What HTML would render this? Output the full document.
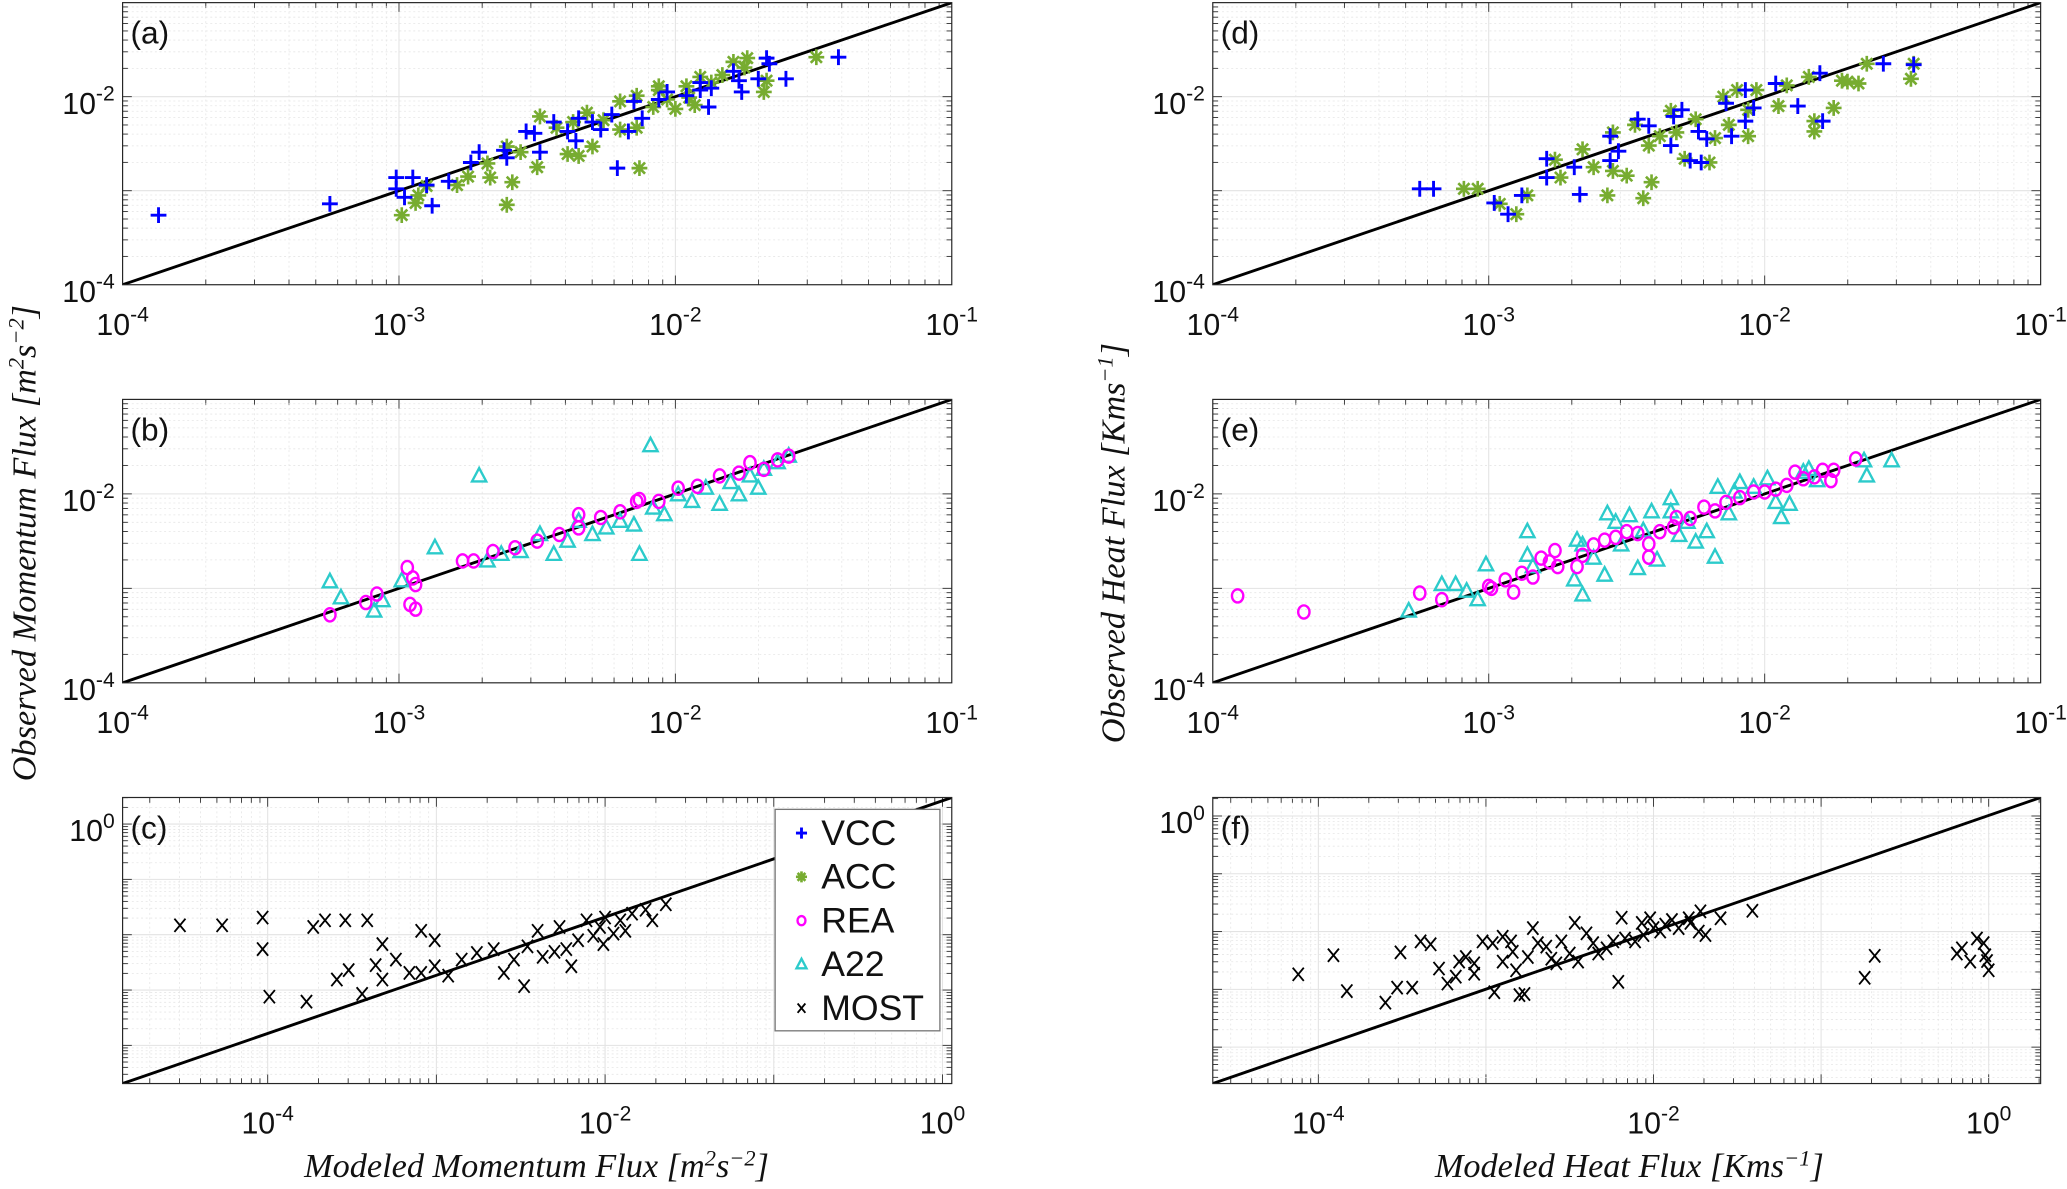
<!DOCTYPE html>
<html><head><meta charset="utf-8"><style>
html,body{margin:0;padding:0;background:#fff;}
svg{display:block;}
text{font-family:"Liberation Sans",Arial,sans-serif;fill:#111;}
.ser{font-family:"Liberation Serif","DejaVu Serif",serif;font-style:italic;}
</style></head><body>
<svg id="fig" xmlns="http://www.w3.org/2000/svg" width="2067" height="1189" viewBox="0 0 1568 902" preserveAspectRatio="none">
<text class="ser" transform="translate(27,412) rotate(-90)" text-anchor="middle" font-size="26">Observed  Momentum  Flux  [m<tspan dy="-9" font-size="17">2</tspan><tspan dy="9">s</tspan><tspan dy="-9" font-size="17">−2</tspan><tspan dy="9">]</tspan></text>
<text class="ser" transform="translate(853,412) rotate(-90)" text-anchor="middle" font-size="26">Observed  Heat  Flux  [Kms<tspan dy="-9" font-size="17">−1</tspan><tspan dy="9">]</tspan></text>
<text class="ser" x="407" y="893" text-anchor="middle" font-size="26">Modeled Momentum Flux [m<tspan dy="-9" font-size="17">2</tspan><tspan dy="9">s</tspan><tspan dy="-9" font-size="17">−2</tspan><tspan dy="9">]</tspan></text>
<text class="ser" x="1236" y="893" text-anchor="middle" font-size="26">Modeled Heat Flux [Kms<tspan dy="-9" font-size="17">−1</tspan><tspan dy="9">]</tspan></text>
</svg>
<script>
// All values are log10 of flux (decades)
// Panel (a)
const aVccX=[-3.87,-3.25,-3.01,-2.95,-3.01,-2.98,-2.90,-2.88,-2.82,-2.74,-2.71,-2.62,-2.61,-2.54,-2.51,-2.49,-2.44,-2.39,-2.36,-2.30,-2.23,-2.21,-2.17,-2.12,-2.15,-2.06,-2.03,-1.96,-1.91,-1.88,-1.87,-1.79,-1.76,-1.70,-1.67,-1.66,-1.60,-1.41,-1.91,-2.27,-2.35,-1.77];
const aVccY=[-3.26,-3.14,-2.86,-2.86,-2.98,-3.07,-2.94,-3.16,-2.90,-2.70,-2.59,-2.57,-2.65,-2.37,-2.39,-2.59,-2.27,-2.37,-2.47,-2.27,-2.19,-2.76,-2.37,-2.23,-2.05,-2.03,-1.95,-1.99,-1.93,-2.11,-1.91,-1.73,-1.95,-1.81,-1.59,-1.65,-1.81,-1.58,-1.85,-2.35,-2.23,-1.83];
const aAccX=[-2.99,-2.94,-2.93,-2.90,-2.79,-2.75,-2.67,-2.59,-2.61,-2.68,-2.61,-2.56,-2.49,-2.50,-2.43,-2.39,-2.35,-2.32,-2.30,-2.26,-2.20,-2.14,-2.13,-2.20,-2.14,-2.06,-2.03,-2.00,-1.96,-1.93,-1.91,-1.87,-1.83,-1.79,-1.75,-1.74,-1.67,-1.68,-1.49,-2.08,-2.06,-2.37,-1.95];
const aAccY=[-3.26,-3.13,-3.05,-2.95,-2.94,-2.85,-2.86,-2.91,-3.15,-2.71,-2.53,-2.59,-2.21,-2.75,-2.33,-2.61,-2.63,-2.17,-2.53,-2.25,-2.35,-2.33,-2.76,-2.05,-1.99,-1.93,-2.03,-2.13,-1.89,-2.09,-1.79,-1.85,-1.77,-1.63,-1.69,-1.59,-1.83,-1.95,-1.58,-2.11,-1.89,-2.27,-2.01];
// Panel (b)
const bA22X=[-3.25,-3.21,-3.09,-3.06,-2.99,-2.87,-2.71,-2.68,-2.63,-2.56,-2.49,-2.44,-2.39,-2.35,-2.30,-2.25,-2.20,-2.15,-2.13,-2.08,-2.04,-1.99,-1.94,-1.89,-1.84,-1.80,-1.77,-1.73,-1.70,-1.68,-1.63,-1.59,-2.09];
const bA22Y=[-2.93,-3.10,-3.24,-3.13,-2.92,-2.57,-1.81,-2.71,-2.64,-2.61,-2.43,-2.64,-2.50,-2.29,-2.43,-2.36,-2.29,-2.33,-2.64,-2.15,-2.22,-2.01,-2.08,-1.94,-2.11,-1.88,-2.01,-1.81,-1.94,-1.74,-1.67,-1.60,-1.49];
const bReaX=[-3.25,-3.12,-3.08,-2.97,-2.95,-2.94,-2.96,-2.94,-2.77,-2.73,-2.66,-2.58,-2.50,-2.42,-2.35,-2.27,-2.20,-2.14,-2.06,-1.99,-1.92,-1.84,-1.77,-1.73,-1.68,-1.63,-1.59,-2.13,-2.35];
const bReaY=[-3.28,-3.15,-3.06,-2.78,-2.89,-2.96,-3.17,-3.22,-2.71,-2.71,-2.61,-2.57,-2.50,-2.43,-2.36,-2.25,-2.19,-2.08,-2.08,-1.94,-1.92,-1.81,-1.78,-1.67,-1.74,-1.64,-1.60,-2.06,-2.22];
// Panel (c)
const cMostX=[-4.52,-4.27,-4.03,-4.03,-3.99,-3.73,-3.66,-3.54,-3.41,-3.77,-3.59,-3.52,-3.44,-3.32,-3.36,-3.32,-3.24,-3.16,-3.09,-3.09,-3.01,-3.01,-2.93,-2.85,-2.76,-2.66,-2.60,-2.54,-2.46,-2.40,-2.37,-2.30,-2.27,-2.23,-2.16,-2.11,-2.07,-2.03,-2.00,-1.95,-1.91,-1.88,-1.84,-1.76,-1.72,-1.64,-2.01,-2.20,-2.48];
const cMostY=[-1.83,-1.83,-1.69,-2.26,-3.12,-1.86,-1.74,-1.74,-1.74,-3.21,-2.81,-2.64,-3.07,-2.17,-2.55,-2.81,-2.45,-2.69,-1.93,-2.69,-2.10,-2.57,-2.74,-2.45,-2.33,-2.26,-2.69,-2.45,-2.21,-1.93,-2.40,-2.31,-1.86,-2.26,-2.10,-1.74,-2.02,-1.86,-1.69,-1.98,-1.74,-1.93,-1.62,-1.55,-1.74,-1.45,-2.17,-2.57,-2.93];
// Panel (d)
const dVccX=[-3.25,-3.20,-2.98,-2.93,-2.88,-2.79,-2.79,-2.69,-2.67,-2.56,-2.53,-2.56,-2.46,-2.42,-2.34,-2.33,-2.27,-2.23,-2.24,-2.21,-2.12,-2.14,-2.07,-2.07,-2.04,-1.96,-1.88,-1.79,-1.80,-1.57,-1.46,-2.30];
const dVccY=[-2.98,-2.98,-3.13,-3.25,-3.05,-2.66,-2.86,-2.75,-3.04,-2.68,-2.58,-2.42,-2.24,-2.31,-2.52,-2.21,-2.68,-2.70,-2.37,-2.45,-2.42,-2.07,-1.93,-2.26,-2.12,-1.86,-2.10,-2.26,-1.75,-1.65,-1.66,-2.14];
const dAccX=[-3.09,-3.04,-2.96,-2.90,-2.86,-2.76,-2.74,-2.66,-2.62,-2.57,-2.55,-2.50,-2.44,-2.41,-2.55,-2.47,-2.42,-2.38,-2.34,-2.32,-2.29,-2.25,-2.20,-2.18,-2.15,-2.13,-2.10,-2.06,-2.06,-2.03,-1.95,-1.92,-1.84,-1.82,-1.82,-1.75,-1.72,-1.70,-1.66,-1.63,-1.46,-1.47];
const dAccY=[-2.98,-2.98,-3.14,-3.25,-3.05,-2.67,-2.86,-2.56,-2.75,-3.05,-2.79,-2.84,-3.08,-2.91,-2.38,-2.30,-2.52,-2.42,-2.15,-2.38,-2.66,-2.24,-2.70,-2.44,-2.00,-2.30,-1.93,-2.42,-2.14,-1.93,-2.10,-1.88,-1.79,-2.26,-2.37,-2.12,-1.83,-1.84,-1.86,-1.65,-1.65,-1.81];
// Panel (e)
const eReaX=[-3.91,-3.67,-3.25,-3.17,-3.00,-2.99,-2.94,-2.91,-2.88,-2.84,-2.81,-2.78,-2.76,-2.75,-2.68,-2.66,-2.62,-2.58,-2.54,-2.50,-2.46,-2.42,-2.42,-2.38,-2.33,-2.32,-2.27,-2.22,-2.18,-2.14,-2.09,-2.04,-2.00,-1.96,-1.92,-1.89,-1.86,-1.82,-1.79,-1.76,-1.75,-1.67];
const eReaY=[-3.08,-3.25,-3.05,-3.12,-2.98,-3.00,-2.91,-3.04,-2.84,-2.88,-2.68,-2.72,-2.60,-2.77,-2.77,-2.65,-2.54,-2.49,-2.46,-2.40,-2.42,-2.67,-2.53,-2.40,-2.35,-2.25,-2.26,-2.14,-2.18,-2.09,-2.04,-1.98,-1.98,-1.95,-1.91,-1.77,-1.84,-1.82,-1.75,-1.86,-1.75,-1.63];
const eA22X=[-3.29,-3.17,-3.12,-3.08,-3.04,-3.01,-2.86,-2.86,-2.84,-2.69,-2.66,-2.68,-2.66,-2.62,-2.58,-2.57,-2.54,-2.52,-2.49,-2.46,-2.44,-2.41,-2.39,-2.34,-2.34,-2.31,-2.28,-2.25,-2.21,-2.18,-2.17,-2.13,-2.11,-2.09,-2.04,-1.99,-1.96,-1.94,-1.91,-1.86,-1.84,-1.64,-1.63,-1.54,-1.81];
const eA22Y=[-3.24,-2.96,-2.96,-3.03,-3.12,-2.75,-2.40,-2.65,-2.77,-2.91,-3.07,-2.49,-2.54,-2.68,-2.86,-2.21,-2.30,-2.54,-2.23,-2.79,-2.39,-2.19,-2.70,-2.05,-2.19,-2.44,-2.30,-2.51,-2.40,-2.67,-1.93,-2.21,-1.98,-1.88,-1.93,-1.84,-2.09,-2.25,-2.11,-1.77,-1.74,-1.65,-1.81,-1.65,-1.86];
// Panel (f)
const fMostX=[-4.12,-3.91,-3.83,-3.60,-3.53,-3.51,-3.44,-3.39,-3.33,-3.28,-3.23,-3.18,-3.16,-3.12,-3.07,-3.07,-3.02,-2.96,-2.95,-2.90,-2.90,-2.85,-2.84,-2.80,-2.77,-2.82,-2.75,-2.72,-2.69,-2.64,-2.61,-2.58,-2.55,-2.50,-2.47,-2.45,-2.40,-2.36,-2.33,-2.28,-2.24,-2.21,-2.19,-2.17,-2.11,-2.07,-2.06,-2.02,-2.00,-1.96,-1.93,-1.89,-1.85,-1.79,-1.78,-1.73,-1.72,-1.69,-1.60,-1.41,-0.74,-0.68,-0.19,-0.16,-0.11,-0.07,-0.03,-0.02,-0.01,0.00];
const fMostY=[-2.74,-2.41,-3.03,-3.23,-2.97,-2.36,-2.97,-2.17,-2.22,-2.64,-2.90,-2.78,-2.52,-2.44,-2.73,-2.55,-2.17,-2.20,-3.05,-2.09,-2.52,-2.17,-2.35,-3.10,-3.08,-2.67,-2.44,-1.94,-2.20,-2.26,-2.47,-2.55,-2.17,-2.38,-1.85,-2.52,-2.03,-2.20,-2.38,-2.29,-2.17,-2.87,-1.76,-2.12,-2.17,-1.85,-2.06,-1.77,-1.94,-2.00,-1.88,-1.80,-1.94,-1.77,-1.85,-2.00,-1.65,-2.06,-1.77,-1.64,-2.80,-2.42,-2.38,-2.29,-2.52,-2.12,-2.20,-2.41,-2.51,-2.67];

const svg=document.getElementById('fig');
const NS='http://www.w3.org/2000/svg';
function mk(tag,attrs,parent){const e=document.createElementNS(NS,tag);for(const k in attrs)e.setAttribute(k,attrs[k]);(parent||svg).appendChild(e);return e;}

function tickLabel(g,x,y,exp,anchor){
  const t=mk('text',{x:x,y:y,'text-anchor':anchor,'font-size':23},g);
  
  
  t.appendChild(document.createTextNode('10'));
  const s=mk('tspan',{dy:-10,'font-size':16},t);s.textContent=String(exp);
  return t;
}

function makePanel(p){
  const g=mk('g',{});
  
  
  const X=v=>p.x0+(v-p.xmin)/(p.xmax-p.xmin)*(p.x1-p.x0);
  const Y=v=>p.y1-(v-p.ymin)/(p.ymax-p.ymin)*(p.y1-p.y0);
  mk('rect',{x:p.x0,y:p.y0,width:p.x1-p.x0,height:p.y1-p.y0,fill:'#fff'},g);
  for(let d=Math.floor(p.xmin);d<=Math.ceil(p.xmax);d++){
    for(let m=1;m<10;m++){const v=d+Math.log10(m);if(v<=p.xmin||v>=p.xmax)continue;const x=X(v);
      mk('line',{x1:x,x2:x,y1:p.y0,y2:p.y1,stroke:m===1?'#e3e3e3':'#e6e6e6','stroke-width':m===1?0.8:0.6,'stroke-dasharray':m===1?'':'1.5,2'},g);
      const tl=m===1?7:4;
      mk('line',{x1:x,x2:x,y1:p.y1,y2:p.y1-tl,stroke:'#333','stroke-width':0.7},g);
      mk('line',{x1:x,x2:x,y1:p.y0,y2:p.y0+tl,stroke:'#333','stroke-width':0.7},g);}
  }
  for(let d=Math.floor(p.ymin);d<=Math.ceil(p.ymax);d++){
    for(let m=1;m<10;m++){const v=d+Math.log10(m);if(v<=p.ymin||v>=p.ymax)continue;const y=Y(v);
      mk('line',{x1:p.x0,x2:p.x1,y1:y,y2:y,stroke:m===1?'#e3e3e3':'#e6e6e6','stroke-width':m===1?0.8:0.6,'stroke-dasharray':m===1?'':'1.5,2'},g);
      const tl=m===1?7:4;
      mk('line',{x1:p.x0,x2:p.x0+tl,y1:y,y2:y,stroke:'#333','stroke-width':0.7},g);
      mk('line',{x1:p.x1,x2:p.x1-tl,y1:y,y2:y,stroke:'#333','stroke-width':0.7},g);}
  }
  p.xt.forEach(v=>tickLabel(g,X(v),p.y1+38,v,'middle'));
  p.yt.forEach(v=>tickLabel(g,p.x0-6,Y(v)+13,v,'end'));
  const clip=mk('clipPath',{id:'clip'+p.id},g);
  mk('rect',{x:p.x0,y:p.y0,width:p.x1-p.x0,height:p.y1-p.y0},clip);
  const line=mk('line',{x1:X(p.xmin),y1:Y(p.ymin),x2:X(p.xmax),y2:Y(p.ymax),stroke:'#000','stroke-width':2.2,'clip-path':'url(#clip'+p.id+')'},g);
  
  
  p.series.forEach(s=>{
    const sg=mk('g',{},g);
    
    
    s.xs.forEach((xv,i)=>{const m=marker(sg,s.type,X(xv),Y(s.ys[i]),1);
      
      });
  });
  mk('rect',{x:p.x0,y:p.y0,width:p.x1-p.x0,height:p.y1-p.y0,fill:'none',stroke:'#262626','stroke-width':0.9},g);
  const lab=mk('text',{x:p.x0+6,y:p.y0+31,'font-size':24},g);
  lab.textContent='('+p.id+')';
  
  
  return {g,X,Y};
}

function marker(parent,type,x,y,sc){
  const g=mk('g',{},parent);
  if(type==='plus'){const r=6*sc;mk('path',{d:`M${x-r},${y}H${x+r}M${x},${y-r}V${y+r}`,stroke:'#0000ff','stroke-width':2.2},g);}
  else if(type==='star'){const r=6*sc;let d='';for(let k=0;k<4;k++){const a=k*Math.PI/4;d+=`M${x-r*Math.cos(a)},${y-r*Math.sin(a)}L${x+r*Math.cos(a)},${y+r*Math.sin(a)}`;}
    mk('path',{d,stroke:'#77ac30','stroke-width':2},g);}
  else if(type==='circle'){mk('ellipse',{cx:x,cy:y,rx:4.3*sc,ry:5*sc,fill:'none',stroke:'#ff00ff','stroke-width':1.8},g);}
  else if(type==='tri'){const r=6*sc;mk('path',{d:`M${x},${y-r}L${x+r*0.9},${y+r*0.7}L${x-r*0.9},${y+r*0.7}Z`,fill:'none',stroke:'#2ccbcb','stroke-width':1.8},g);}
  else if(type==='x'){const r=4.2*sc;mk('path',{d:`M${x-r},${y-r*1.2}L${x+r},${y+r*1.2}M${x+r},${y-r*1.2}L${x-r},${y+r*1.2}`,stroke:'#000','stroke-width':1.4},g);}
  return g;
}

const L=[93,722],R=[920,1548];
makePanel({id:'a',x0:L[0],x1:L[1],y0:2,y1:216,xmin:-4,xmax:-1,ymin:-4,ymax:-1,xt:[-4,-3,-2,-1],yt:[-4,-2],
  series:[{name:'acc',type:'star',xs:aAccX,ys:aAccY},{name:'vcc',type:'plus',xs:aVccX,ys:aVccY}]});
makePanel({id:'b',x0:L[0],x1:L[1],y0:303,y1:518,xmin:-4,xmax:-1,ymin:-4,ymax:-1,xt:[-4,-3,-2,-1],yt:[-4,-2],
  series:[{name:'a22',type:'tri',xs:bA22X,ys:bA22Y},{name:'rea',type:'circle',xs:bReaX,ys:bReaY}]});
makePanel({id:'c',x0:L[0],x1:L[1],y0:605,y1:822,xmin:-4.86,xmax:0.055,ymin:-4.69,ymax:0.48,xt:[-4,-2,0],yt:[0],
  series:[{name:'most',type:'x',xs:cMostX,ys:cMostY}]});
makePanel({id:'d',x0:R[0],x1:R[1],y0:2,y1:216,xmin:-4,xmax:-1,ymin:-4,ymax:-1,xt:[-4,-3,-2,-1],yt:[-4,-2],
  series:[{name:'acc',type:'star',xs:dAccX,ys:dAccY},{name:'vcc',type:'plus',xs:dVccX,ys:dVccY}]});
makePanel({id:'e',x0:R[0],x1:R[1],y0:303,y1:518,xmin:-4,xmax:-1,ymin:-4,ymax:-1,xt:[-4,-3,-2,-1],yt:[-4,-2],
  series:[{name:'a22',type:'tri',xs:eA22X,ys:eA22Y},{name:'rea',type:'circle',xs:eReaX,ys:eReaY}]});
makePanel({id:'f',x0:R[0],x1:R[1],y0:605,y1:822,xmin:-4.63,xmax:0.31,ymin:-4.63,ymax:0.32,xt:[-4,-2,0],yt:[0],
  series:[{name:'most',type:'x',xs:fMostX,ys:fMostY}]});

const legNames=['VCC','ACC','REA','A22','MOST'];
const legTypes=['plus','star','circle','tri','x'];
const lg=mk('g',{});


mk('rect',{x:588,y:614,width:125,height:168,fill:'#fff',stroke:'#777','stroke-width':1},lg);
legNames.forEach((n,i)=>{
  const y=632+i*33.2;
  const e=mk('g',{},lg);
  
  
  marker(e,legTypes[i],608,y,0.7);
  const t=mk('text',{x:623,y:y+9,'font-size':27,'font-family':'"Liberation Serif",serif'},e);
  t.textContent=n;
});
</script>
</body></html>
